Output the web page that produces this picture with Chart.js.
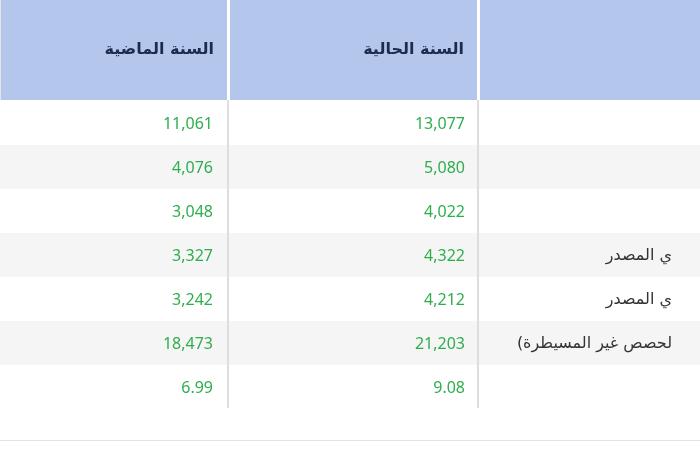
<!DOCTYPE html>
<html><head><meta charset="utf-8">
<script src="https://cdn.jsdelivr.net/npm/chart.js@4/dist/chart.umd.min.js"></script>
<style>html,body{margin:0;padding:0;background:#fff}#w{width:700px;height:450px}</style>
</head><body><div id="w"><canvas id="c"></canvas></div>
<script>
const headers = ['السنة الماضية', 'السنة الحالية', ''];
const rowLabels = ['', '', '', 'ي المصدر', 'ي المصدر', 'لحصص غير المسيطرة)', ''];
const lastYear = ['11,061', '4,076', '3,048', '3,327', '3,242', '18,473', '6.99'];
const thisYear = ['13,077', '5,080', '4,022', '4,322', '4,212', '21,203', '9.08'];

const colEdges = [0, 227, 477, 700];
const headerBottom = 100, rowH = 44;

const tablePlugin = {
  id: 'table',
  beforeDatasetsDraw(chart) {
    const {ctx, scales: {x, y}} = chart;
    const px = v => x.getPixelForValue(v), py = v => y.getPixelForValue(v);
    ctx.save();
    ctx.fillStyle = '#b4c6ec';
    ctx.fillRect(px(0), py(0), px(700) - px(0), py(headerBottom) - py(0));
    const n = lastYear.length;
    for (let i = 0; i < n; i++) {
      const t = headerBottom + i * rowH;
      ctx.fillStyle = i % 2 ? '#f5f5f5' : '#ffffff';
      ctx.fillRect(px(0), py(t + 1), px(700) - px(0), py(t + rowH + 1) - py(t + 1));
    }
    const bodyEnd = headerBottom + n * rowH;
    [227, 477].forEach(e => {
      ctx.fillStyle = '#ffffff';
      ctx.fillRect(px(e), py(0), 3, py(headerBottom) - py(0));
      ctx.fillStyle = '#dedede';
      ctx.fillRect(px(e), py(headerBottom), 2, py(bodyEnd) - py(headerBottom));
    });
    ctx.fillStyle = '#e4e4e4';
    ctx.fillRect(px(0), py(440), px(700) - px(0), 1);
    ctx.fillRect(px(0), py(0), 1, py(headerBottom));
    ctx.direction = 'rtl';
    ctx.textAlign = 'right';
    ctx.textBaseline = 'middle';
    ctx.fillStyle = '#1d2b4f';
    ctx.font = 'bold 16px "DejaVu Sans", "Noto Sans", sans-serif';
    headers.forEach((h, j) => ctx.fillText(h, px(colEdges[j + 1] - 13), py(50)));
    ctx.direction = 'ltr';
    ctx.font = '16px "Noto Sans", "DejaVu Sans", sans-serif';
    ctx.fillStyle = '#2fae4e';
    for (let i = 0; i < n; i++) {
      const cy = py(headerBottom + i * rowH + rowH / 2 + 2);
      ctx.fillText(lastYear[i], px(213), cy);
      ctx.fillText(thisYear[i], px(465), cy);
    }
    ctx.direction = 'rtl';
    ctx.fillStyle = '#333333';
    ctx.font = '16px "DejaVu Sans", "Noto Sans", sans-serif';
    for (let i = 0; i < n; i++) {
      if (!rowLabels[i]) continue;
      ctx.fillText(rowLabels[i], px(672), py(headerBottom + i * rowH + rowH / 2 + 2));
    }
    ctx.restore();
  }
};

new Chart(document.getElementById('c'), {
  type: 'scatter',
  data: {datasets: [{data: [], pointRadius: 0}]},
  options: {
    responsive: true, maintainAspectRatio: false, animation: false,
    layout: {padding: 0},
    plugins: {legend: {display: false}, tooltip: {enabled: false}},
    scales: {
      x: {type: 'linear', min: 0, max: 700, display: false},
      y: {type: 'linear', min: 0, max: 450, reverse: true, display: false}
    }
  },
  plugins: [tablePlugin]
});
</script></body></html>
